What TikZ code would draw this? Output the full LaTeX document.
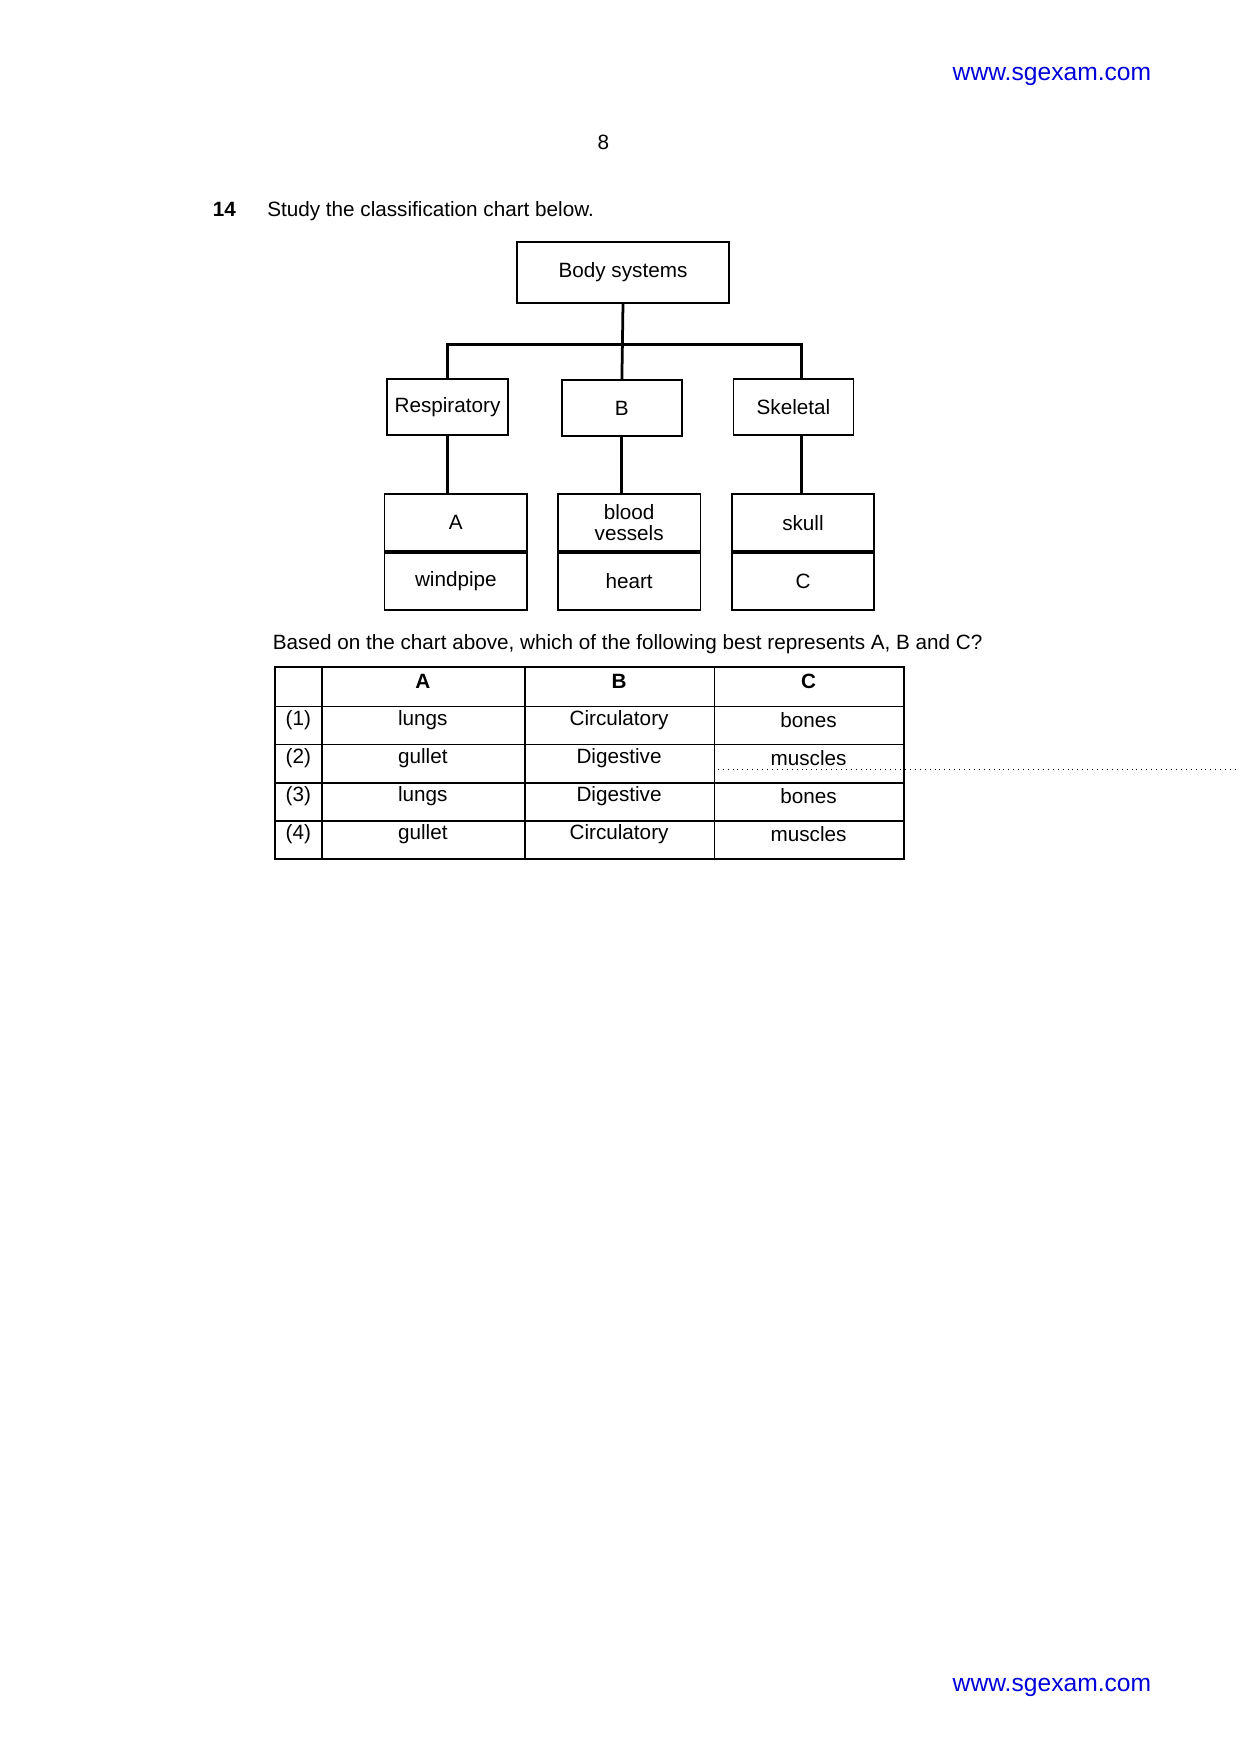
\documentclass[tikz,border=0pt]{standalone}
\usepackage{fontspec}
\setmainfont{Liberation Sans}
\begin{document}
\begin{tikzpicture}[x=0.02cm,y=-0.02cm,
  bx/.style={draw,line width=0.8pt},
  ln/.style={line width=1.4pt},
  t/.style={font=\fontsize{10.5pt}{12pt}\selectfont,inner sep=0pt},
  web/.style={font=\fontsize{12.5pt}{14pt}\selectfont,text=blue!85!black,inner sep=0pt}]
\useasboundingbox (0,0) rectangle (1105,1564);
\node[web] (w1) at (938,68) {www.sgexam.com};
\node[web] (w2) at (938,1505) {www.sgexam.com};
\node[t] (pg) at (538,127) {8};
\node[t,font=\fontsize{10.5pt}{12pt}\selectfont\bfseries] (q) at (200,187) {14};
\node[t,anchor=west] (qt) at (238,188) {Study the classification chart below.};
% chart
\node[bx,minimum width=189*0.02cm,minimum height=54*0.02cm,t] (bs) at (555.5,243) {Body systems};
\node[bx,minimum width=108*0.02cm,minimum height=50*0.02cm,t] (re) at (399,363) {Respiratory};
\node[bx,minimum width=107*0.02cm,minimum height=50*0.02cm,t] (b) at (554.5,364) {B};
\node[bx,minimum width=107*0.02cm,minimum height=50*0.02cm,t] (sk) at (707.5,363) {Skeletal};
\coordinate (j) at (555,307);
\coordinate (skt) at (715,338);
\draw[ln] (bs.south) -- (j);
\draw[ln] (re.north) |- (j) -| (skt);
\draw[ln] (j) -- (b.north);
\foreach \n/\x/\top/\bot in {a/406.5/A/windpipe, bv/561/{blood\\[-1pt]vessels}/heart, c/716/skull/C}{
  \node[bx,minimum width=127*0.02cm,minimum height=51*0.02cm,t,align=center] (\n1) at (\x,466) {\top};
  \node[bx,minimum width=127*0.02cm,minimum height=51*0.02cm,t,anchor=north] (\n2) at (\n1.south) {\bot};
}
\coordinate (skb) at (715,388);
\draw[ln] (re.south) -- (re.south |- a1.north);
\draw[ln] (b.south) -- (b.south |- bv1.north);
\draw[ln] (skb) -- (skb |- c1.north);
\node[t,anchor=west] (q2) at (243,574) {Based on the chart above, which of the following best represents A, B and C?};
% table
\draw[line width=0.8pt] (245,595) rectangle (806,766);
\foreach \y in {630,664,698,732} \draw[line width=0.8pt] (245,\y) -- (806,\y);
\foreach \x in {287,468,637} \draw[line width=0.8pt] (\x,595) -- (\x,766);
\draw[dotted,line width=0.5pt] (640,686) -- (1105,686);
\node[t,font=\fontsize{10.5pt}{12pt}\selectfont\bfseries] (ha) at (377,608) {A};
\node[t,font=\fontsize{10.5pt}{12pt}\selectfont\bfseries] (hb) at (552,608) {B};
\node[t,font=\fontsize{10.5pt}{12pt}\selectfont\bfseries] (hc) at (721,608) {C};
\foreach \i/\y/\a/\b/\c in {1/642/lungs/Circulatory/bones,2/676/gullet/Digestive/muscles,3/710/lungs/Digestive/bones,4/744/gullet/Circulatory/muscles}{
  \node[t] (n\i) at (266,\y) {(\i)};
  \node[t] (a\i) at (377,\y) {\a};
  \node[t] (b\i) at (552,\y) {\b};
  \node[t] (c\i) at (721,\y) {\c};
}
\end{tikzpicture}
\end{document}
